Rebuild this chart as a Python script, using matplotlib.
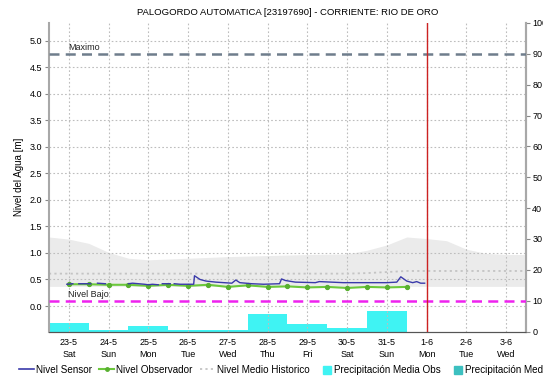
import matplotlib
matplotlib.use("Agg")
import matplotlib.pyplot as plt
import numpy as np
from matplotlib.lines import Line2D
from matplotlib.patches import Patch, Rectangle
from matplotlib.legend_handler import HandlerPatch

plt.rcParams['font.family'] = ['Liberation Sans', 'DejaVu Sans']

# ---- data ----
day_labels = ["23-5\nSat", "24-5\nSun", "25-5\nMon", "26-5\nTue", "27-5\nWed", "28-5\nThu",
              "29-5\nFri", "30-5\nSat", "31-5\nSun", "1-6\nMon", "2-6\nTue", "3-6\nWed"]
day_pos = list(range(12))  # day index, 0 = 23-5

# Nivel Sensor (day index, metres), None = gap
sensor_t = [-0.05, 0.10, None, 0.25, 0.55, None, 0.72, 0.92, None,
            1.50, 1.60, 1.75, 1.90, 2.00, 2.10, 2.25, None, 2.35, 2.55, None,
            2.65, 2.80, 3.00, 3.14, 3.16, 3.30, 3.45, 3.70, 4.10, 4.20, 4.30, 4.60,
            4.90, 5.30, 5.35, 5.45, 5.70, 6.20, 6.30, 6.60, 6.90, 7.30, 7.60, 8.00,
            8.25, 8.35, 8.50, 8.65, 8.75, 8.85, 8.95]
sensor_v = [0.41, 0.42, None, 0.42, 0.42, None, 0.43, 0.42, None,
            0.42, 0.43, 0.42, 0.41, 0.40, 0.41, 0.40, None, 0.42, 0.42, None,
            0.42, 0.41, 0.41, 0.41, 0.57, 0.50, 0.47, 0.45, 0.43, 0.49, 0.44, 0.42,
            0.41, 0.42, 0.51, 0.48, 0.45, 0.44, 0.46, 0.45, 0.44, 0.44, 0.44, 0.44,
            0.45, 0.55, 0.47, 0.44, 0.46, 0.43, 0.43]

# Nivel Observador (every half day from 23-5)
obs_t = [i * 0.5 for i in range(18)]
obs_v = [0.41, 0.41, 0.40, 0.40, 0.38, 0.40, 0.38, 0.40, 0.36,
         0.39, 0.36, 0.37, 0.35, 0.36, 0.34, 0.36, 0.35, 0.36]

# Historical band and mean
hist_t = [-0.5, 0.0, 0.5, 1.0, 1.5, 2.0, 3.0, 4.0, 5.0, 6.0, 7.0, 7.5, 8.0,
          8.5, 9.0, 9.5, 10.0, 10.5, 11.0, 11.5]
hist_hi = [1.30, 1.26, 1.18, 1.01, 0.90, 0.87, 0.90, 0.93, 0.95, 0.97, 0.98, 1.05, 1.15,
           1.30, 1.27, 1.23, 1.07, 0.99, 0.97, 0.97]
hist_lo = [0.37, 0.37, 0.37, 0.37, 0.37, 0.37, 0.37, 0.37, 0.37, 0.37, 0.37, 0.37, 0.37,
           0.37, 0.37, 0.37, 0.37, 0.37, 0.37, 0.37]
hist_mean = [0.61, 0.61, 0.61, 0.61, 0.61, 0.61, 0.61, 0.61, 0.61, 0.61, 0.61, 0.62, 0.64,
             0.66, 0.66, 0.66, 0.66, 0.66, 0.66, 0.66]

# Precipitation (daily, right axis)
precip_t = [0, 1, 2, 3, 4, 5, 6, 7, 8]
precip_v = [2.7, 0.6, 1.8, 0.4, 0.4, 5.7, 2.3, 1.0, 6.8]

nivel_max = 4.75
nivel_bajo = 0.10
today = 9

title = "PALOGORDO AUTOMATICA [23197690] - CORRIENTE: RIO DE ORO"

# ---- figure ----
fig = plt.figure(figsize=(5.43, 3.80), dpi=100)
ax = fig.add_axes([0.0902, 0.1276, 0.8785, 0.8119])
ax2 = ax.twinx()
ax.set_zorder(ax2.get_zorder() + 1)
ax.patch.set_visible(False)

# precipitation bars on right axis
ax2.bar(precip_t, precip_v, width=1.0, color='#3FF3F3', edgecolor='none', zorder=1)
ax2.set_ylim(0, 100)
ax2.set_yticks(range(0, 101, 10))

# historical band
ax.fill_between(hist_t, hist_lo, hist_hi, color='#EBEBEB', lw=0, zorder=0)
ax.plot(hist_t, hist_mean, color='#C4C4C4', lw=1.3, ls=(0, (1.2, 1.8)), zorder=2)

# thresholds
ax.axhline(nivel_max, color='#6F7D8C', lw=1.8, ls=(0, (4, 2.5)), zorder=3)
ax.axhline(nivel_bajo, color='#EE22EE', lw=1.8, ls=(0, (4, 2.5)), zorder=3)
ax.text(-0.02, nivel_max + 0.04, "Maximo", fontsize=6.5, va='bottom', ha='left', color='#222222')
ax.text(-0.02, nivel_bajo + 0.04, "Nivel Bajo", fontsize=6.5, va='bottom', ha='left', color='#222222')

# series
st = np.array([np.nan if t is None else t for t in sensor_t], dtype=float)
sv = np.array([np.nan if v is None else v for v in sensor_v], dtype=float)
ax.plot(obs_t, obs_v, color='#6CC83C', lw=1.5, marker='o', ms=2.8, mfc='#58B030',
        mec='#58B030', zorder=4)
ax.plot(st, sv, color='#3A3AAA', lw=1.0, zorder=5)

# today line
ax.axvline(today, color='#CC2222', lw=1.0, zorder=6)

ax.set_xlim(-0.5, 11.5)
ax.set_ylim(-0.48, 5.33)
ax.set_yticks(np.arange(0, 5.01, 0.5))
ax.set_yticklabels([f"{v:.1f}" for v in np.arange(0, 5.01, 0.5)])
ax.set_xticks(day_pos)
ax.set_xticklabels(day_labels, linespacing=1.35)
ax.grid(True, color='#BDBDBD', ls=(0, (1.5, 2)), lw=0.8)
ax.set_ylabel("Nivel del Agua [m]", fontsize=7, labelpad=4)
ax.set_title(title, fontsize=6.8, pad=6)

for a in (ax, ax2):
    a.tick_params(labelsize=6.5, length=3, width=0.8, color='#888888', pad=2)
    a.spines['top'].set_visible(False)
    a.spines['left'].set_color('#A8A8A8')
    a.spines['right'].set_color('#A8A8A8')
    a.spines['left'].set_linewidth(1.5)
    a.spines['right'].set_linewidth(1.5)
    a.spines['bottom'].set_color('#555555')
    a.spines['bottom'].set_linestyle((0, (1, 1)))
ax.tick_params(axis='x', length=0, pad=5)
ax2.tick_params(axis='y', pad=1.5)
ax2.spines['left'].set_visible(False)


def square_patch(legend, orig_handle, xdescent, ydescent, width, height, fontsize):
    s = height * 1.05
    return Rectangle((width - s - xdescent, -ydescent - 0.05 * height), s, s)


handles = [Line2D([], [], color='#3A3AAA', lw=1.2),
           Line2D([], [], color='#6CC83C', lw=1.5, marker='o', ms=2.5, mfc='#58B030', mec='#58B030'),
           Line2D([], [], color='#C4C4C4', lw=1.3, ls=(0, (1.2, 1.8))),
           Patch(color='#3FF3F3'),
           Patch(color='#3CC0C0')]
labels = ["Nivel Sensor", "Nivel Observador", "Nivel Medio Historico",
          "Precipitación Media Obs", "Precipitación Media Pronosticada"]
hmap = {handles[3]: HandlerPatch(patch_func=square_patch),
        handles[4]: HandlerPatch(patch_func=square_patch)}
fig.legend(handles, labels, loc='center left', bbox_to_anchor=(0.035, 0.026), ncol=5,
           frameon=False, fontsize=7.1, handlelength=1.5, handletextpad=0.25,
           handleheight=0.9, columnspacing=0.7, borderpad=0, borderaxespad=0,
           handler_map=hmap)

fig.savefig("out.png", dpi=100)
